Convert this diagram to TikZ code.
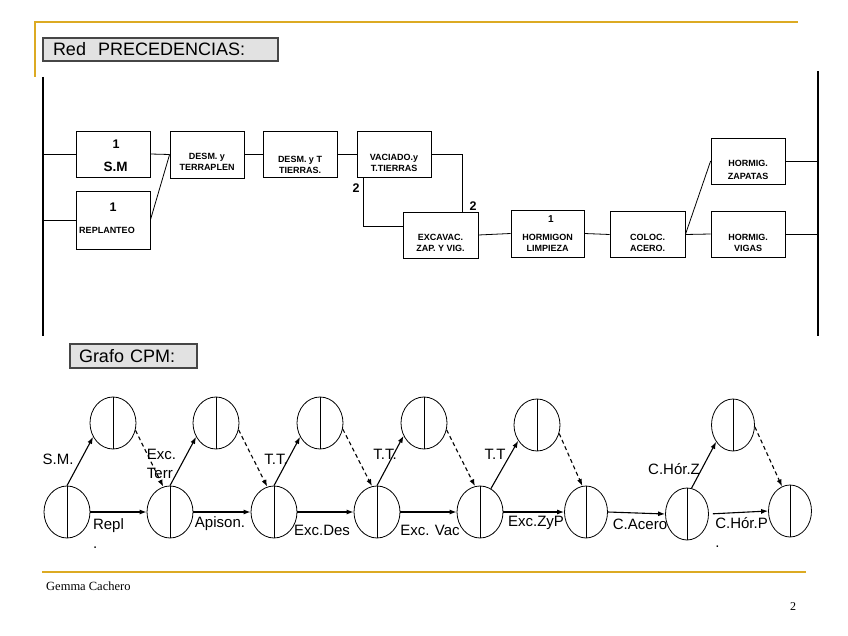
\documentclass[tikz,border=0pt]{standalone}
\usepackage{fontspec}
\setmainfont{Liberation Sans}
\newfontfamily\serifft{Liberation Serif}
\usetikzlibrary{shapes.geometric,arrows.meta}
\definecolor{slidegold}{RGB}{220,170,35}
\definecolor{tabgray}{RGB}{226,226,226}
\definecolor{tabedge}{RGB}{70,70,70}
\begin{document}
\begin{tikzpicture}[x=1pt,y=-1pt,
                tab/.style={draw=tabedge,line width=1.2pt,fill=tabgray,inner xsep=10pt,inner ysep=0pt,align=left,font=\fontsize{18}{20}\selectfont},
                act/.style={draw,line width=0.8pt,minimum width=74pt,minimum height=46pt,inner sep=0pt},
                acttxt/.style={align=center,inner sep=0pt,font=\bfseries\fontsize{9}{11}\selectfont},
                actnum/.style={inner sep=0pt,font=\bfseries\fontsize{12.5}{14}\selectfont},
                bar/.style={line width=1.5pt},
                link/.style={line width=0.8pt},
                event/.style={ellipse,draw,line width=0.8pt,minimum width=46pt,minimum height=52pt,inner sep=0pt},
                real/.style={line width=1.1pt,-{Latex[length=7pt,width=5pt]}},
                dummy/.style={real,dash pattern=on 4pt off 3pt},
                tag/.style={inner sep=0pt,align=left,font=\fontsize{15}{19}\selectfont}]
                \useasboundingbox (0,0) rectangle (848,636);

                \draw[slidegold,line width=2pt] (35,77)--(35,22)--(798,22);
                \draw[slidegold,line width=2pt] (42,572)--(806,572);
                \node[anchor=west,inner sep=0pt,font=\serifft\fontsize{12.5}{14}\selectfont] (author) at (46,586) {Gemma Cachero};
                \node[inner sep=0pt,font=\serifft\fontsize{12}{14}\selectfont] (pageno) at (793,607) {2};

                \node[tab,minimum height=23pt,text width=215pt] (hdrRed) at (160.5,49.5) {Red\ \ PRECEDENCIAS:};
                \node[tab,minimum height=24pt,text width=109pt,inner xsep=9pt] (hdrCPM) at (133.5,356) {Grafo CPM:};

                \coordinate (barLtop) at (43,77);
                \coordinate (barLbot) at (43,336);
                \coordinate (barRtop) at (818,71);
                \coordinate (barRbot) at (818,336);
                \draw[bar] (barLtop)--(barLbot);
                \draw[bar] (barRtop)--(barRbot);

                \node[act] (SM) at (113,154) {};
                \node[act,minimum height=58pt] (REPL) at (113,220) {};
                \node[act,minimum height=47pt] (DTER) at (207,154.5) {};
                \node[act] (DTT) at (300,154.5) {};
                \node[act] (VAC) at (394,154.5) {};
                \node[act,minimum width=75pt] (EXC) at (440.5,235) {};
                \node[act,minimum width=73pt,minimum height=47pt] (HLIM) at (547.5,233.5) {};
                \node[act,minimum width=75pt] (COL) at (647.5,234.5) {};
                \node[act] (HZAP) at (748,161) {};
                \node[act] (HVIG) at (748,234) {};

                \node[actnum] (SMnum) at (116,144) {1};
                \node[actnum,font=\bfseries\fontsize{13.5}{15}\selectfont] (SMname) at (115.5,167) {S.M};
                \node[actnum] (REPLnum) at (113,207) {1};
                \node[acttxt] (REPLname) at (107,230) {REPLANTEO};
                \node[acttxt] (DTERname) at (207,162) {DESM. y\\TERRAPLEN};
                \node[acttxt] (DTTname) at (300,164.5) {DESM. y T\\TIERRAS.};
                \node[acttxt] (VACname) at (394,163) {VACIADO.y\\T.TIERRAS};
                \node[acttxt] (EXCname) at (440.5,243) {EXCAVAC.\\ZAP. Y VIG.};
                \node[actnum,font=\bfseries\fontsize{10}{12}\selectfont] (HLIMnum) at (551,219) {1};
                \node[acttxt] (HLIMname) at (547.5,242.5) {HORMIGON\\LIMPIEZA};
                \node[acttxt] (COLname) at (647.5,243) {COLOC.\\ACERO.};
                \node[acttxt,font=\bfseries\fontsize{9}{13}\selectfont] (HZAPname) at (748,169.5) {HORMIG.\\ZAPATAS};
                \node[acttxt] (HVIGname) at (748,242.5) {HORMIG.\\VIGAS};
                \node[actnum] (lagA) at (356,188) {2};
                \node[actnum] (lagB) at (473,206) {2};

                \draw[link] (SM.west -| barLtop)--(SM.west);
                \draw[link] (REPL.west -| barLtop)--(REPL.west);
                \draw[link] (SM.east)--(DTER.west);
                \draw[link] (REPL.east)--(DTER.west);
                \draw[link] (DTER.east)--(DTT.west);
                \draw[link] (DTT.east)--(VAC.west);
                \draw[link] (VAC.east) -| ([xshift=22pt]EXC.north);
                \draw[link] ([xshift=-31pt]VAC.south) |- ([yshift=9pt]EXC.west);
                \draw[link] (EXC.east)--(HLIM.west);
                \draw[link] (HLIM.east)--(COL.west);
                \draw[link] (COL.east)--(HVIG.west);
                \draw[link] (COL.east)--(HZAP.west);
                \draw[link] (HZAP.east)--(HZAP.east -| barRtop);
                \draw[link] (HVIG.east)--(HVIG.east -| barRtop);

                \node[event] (B1) at (67,512) {};
                \node[event] (B2) at (170,512) {};
                \node[event] (B3) at (274,512) {};
                \node[event] (B4) at (377,512) {};
                \node[event] (B5) at (480,512) {};
                \node[event,minimum width=43pt] (B6) at (586,512) {};
                \node[event,minimum width=43pt] (B7) at (687,514) {};
                \node[event,minimum width=43pt] (B8) at (790,511) {};
                \node[event] (T1) at (113,423) {};
                \node[event] (T2) at (216,423) {};
                \node[event] (T3) at (320,423) {};
                \node[event] (T4) at (424,423) {};
                \node[event] (T5) at (537,425) {};
                \node[event,minimum width=43pt] (T6) at (733,425) {};
                \foreach \ev in {B1,B2,B3,B4,B5,B6,B7,B8,T1,T2,T3,T4,T5,T6}
                    \draw[link] (\ev.north)--(\ev.south);

                \draw[real] (B1.east)--(B2.west);
                \draw[real] (B2.east)--(B3.west);
                \draw[real] (B3.east)--(B4.west);
                \draw[real] (B4.east)--(B5.west);
                \draw[real] (B5.east)--(B6.west);
                \draw[real] (B6.east)--(B7.west);
                \draw[real,shorten <=4pt] (B7.east)--(B8.west);

                \draw[real] (B1.north)--(T1.215);
                \draw[real] (B2.north)--(T2.215);
                \draw[real] (B3.north)--(T3.215);
                \draw[real] (B4.north)--(T4.212);
                \draw[real] (B5.65)--(T5.220);
                \draw[real] (B7.80)--(T6.225);

                \draw[dummy] (T1.-18)--(B2.105);
                \draw[dummy] (T2.-17)--(B3.105);
                \draw[dummy] (T3.-15)--(B4.101);
                \draw[dummy] (T4.-17)--(B5.101);
                \draw[dummy] (T5.-21)--(B6.98);
                \draw[dummy] (T6.-5)--(B8.108);

                \node[tag] (tagSM) at (58,459) {S.M.};
                \node[tag] (tagExcT) at (161.5,463.5) {Exc.\\Terr};
                \node[tag] (tagTTa) at (276,459) {T.T.};
                \node[tag] (tagTTb) at (385,454) {T.T.};
                \node[tag] (tagTTc) at (495,454) {T.T};
                \node[tag] (tagCHZ) at (674,469) {C.Hór.Z};
                \node[tag] (tagRepl) at (108.5,533.5) {Repl\\.};
                \node[tag] (tagApis) at (220,524) {Apison.};
                \node[tag] (tagExcD) at (322,530) {Exc.Des};
                \node[tag] (tagExcV) at (430,530) {Exc. Vac};
                \node[tag] (tagExcZ) at (536,523) {Exc.ZyP};
                \node[tag] (tagCAc) at (640,524) {C.Acero};
                \node[tag] (tagCHP) at (741.5,532.5) {C.Hór.P\\.};
            \end{tikzpicture}
\end{document}
